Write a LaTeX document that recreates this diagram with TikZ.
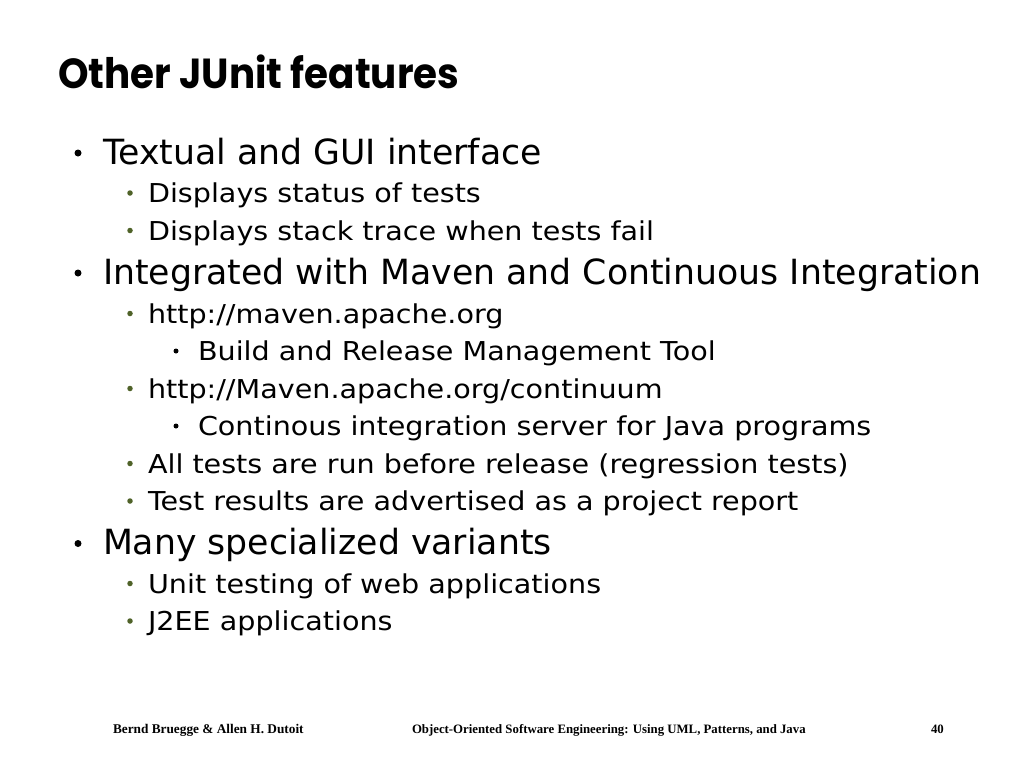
\documentclass[tikz,border=0pt]{standalone}
\usepackage{fontspec}
\setmainfont{DejaVu Sans}
\newfontfamily\titlefont[FakeStretch=0.925]{Poppins}
\newfontfamily\subfont[FakeStretch=1.1]{DejaVu Sans}
\newfontfamily\footfont{Liberation Serif}
\definecolor{olivebullet}{RGB}{79,98,40}
\begin{document}
\begin{tikzpicture}[x=1pt,y=-1pt,
  every node/.style={inner sep=0pt, outer sep=0pt},
  titletext/.style={anchor=base west, font=\titlefont\bfseries\fontsize{42}{48}\selectfont},
  lone/.style={anchor=base west, font=\fontsize{34.7}{40}\selectfont},
  ltwo/.style={anchor=base west, font=\subfont\fontsize{26}{30}\selectfont},
  bone/.style={circle, fill=black, minimum size=7pt},
  btwo/.style={circle, fill=olivebullet, minimum size=5.5pt},
  bthree/.style={circle, fill=black, minimum size=5pt},
  foot/.style={anchor=base west, font=\footfont\bfseries\fontsize{12.8}{15}\selectfont}]
\useasboundingbox[fill=white] (0,0) rectangle (1024,768);
\node[titletext] (title) at (58,88) {Other JUnit features};
% items
\node[bone] (b1) at (78,153) {};
\node[lone] (t1) at (103,164) {Textual and GUI interface};
\node[btwo] (b2) at (130,193) {};
\node[ltwo] (t2) at (148,202.5) {Displays status of tests};
\node[btwo] (b3) at (130,230.5) {};
\node[ltwo] (t3) at (148,240) {Displays stack trace when tests fail};
\node[bone] (b4) at (78,273) {};
\node[lone] (t4) at (103,284) {Integrated with Maven and Continuous Integration};
\node[btwo] (b5) at (130,313.5) {};
\node[ltwo] (t5) at (148,323) {http://maven.apache.org};
\node[bthree] (b6) at (176,351) {};
\node[ltwo] (t6) at (198,360.5) {Build and Release Management Tool};
\node[btwo] (b7) at (130,388.5) {};
\node[ltwo] (t7) at (148,398) {http://Maven.apache.org/continuum};
\node[bthree] (b8) at (176,426) {};
\node[ltwo] (t8) at (198,435.5) {Continous integration server for Java programs};
\node[btwo] (b9) at (130,463.5) {};
\node[ltwo] (t9) at (148,473) {All tests are run before release (regression tests)};
\node[btwo] (b10) at (130,501) {};
\node[ltwo] (t10) at (148,510.5) {Test results are advertised as a project report};
\node[bone] (b11) at (78,543.5) {};
\node[lone] (t11) at (103,554.5) {Many specialized variants};
\node[btwo] (b12) at (130,583.5) {};
\node[ltwo] (t12) at (148,593) {Unit testing of web applications};
\node[btwo] (b13) at (130,621) {};
\node[ltwo] (t13) at (148,630.5) {J2EE applications};
% footer
\node[foot, font=\footfont\bfseries\fontsize{13.3}{15}\selectfont] (f1) at (113,733) {Bernd Bruegge \& Allen H. Dutoit};
\node[foot] (f2) at (412,733) {Object-Oriented Software Engineering: Using UML, Patterns, and Java};
\node[foot] (f3) at (931,733) {40};
\end{tikzpicture}
\end{document}
